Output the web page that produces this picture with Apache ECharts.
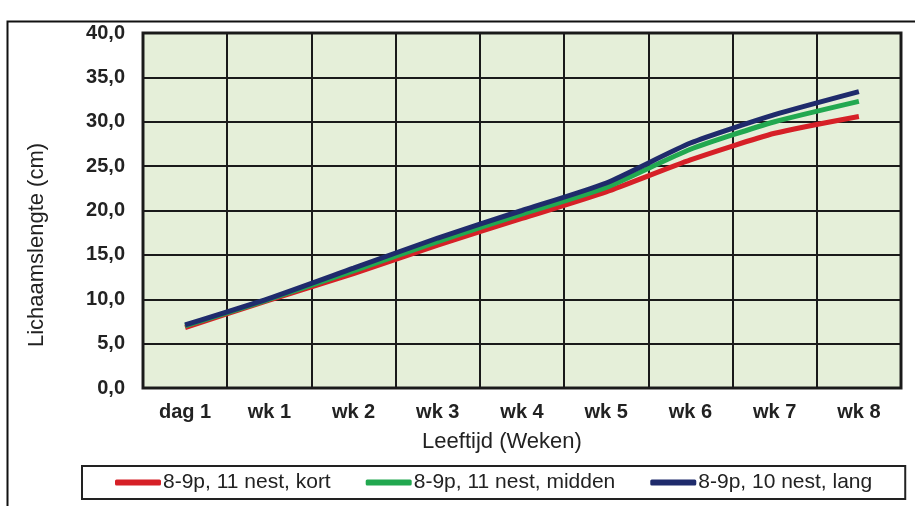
<!DOCTYPE html>
<html>
<head>
<meta charset="utf-8">
<script src="https://cdn.jsdelivr.net/npm/echarts@6/dist/echarts.min.js"></script>
<style>
html,body{margin:0;padding:0;background:#fff;}
#c{width:915px;height:506px;}
</style>
</head>
<body>
<div id="c"></div>
<script>
var categories = ['dag 1','wk 1','wk 2','wk 3','wk 4','wk 5','wk 6','wk 7','wk 8'];
var seriesNames = ['8-9p, 11 nest, kort','8-9p, 11 nest, midden','8-9p, 10 nest, lang'];
var kort   = [6.8, 9.9, 12.9, 16.1, 19.1, 22.1, 25.7, 28.7, 30.6];
var midden = [7.0, 10.0, 13.2, 16.5, 19.6, 22.6, 26.9, 30.0, 32.3];
var lang   = [7.1, 10.1, 13.5, 16.9, 20.0, 23.1, 27.6, 30.8, 33.4];
var yMin = 0, yMax = 40, yStep = 5;
var xTitle = 'Leeftijd (Weken)';
var yTitle = 'Lichaamslengte (cm)';

var colors = ['#d62027', '#22a850', '#1f2b6c'];
var font = 'Liberation Sans, Arial, sans-serif';

var chart = echarts.init(document.getElementById('c'), null, {renderer:'canvas'});
var dataSets = [kort, midden, lang];
var series = dataSets.map(function(d, i){
  return {
    name: seriesNames[i], type: 'line', data: d, smooth: 0.2,
    symbol: 'none', lineStyle: {width: 5, color: colors[i]}, itemStyle:{color: colors[i]}
  };
});

chart.setOption({
  animation: false,
  color: colors,
  grid: {left: 143, right: 14, top: 33, bottom: 118, show: true,
         backgroundColor: '#e5efd9', borderColor: '#222', borderWidth: 3},
  xAxis: {
    type: 'category', data: categories, boundaryGap: true,
    axisLine: {show: false}, axisTick: {show: false},
    axisLabel: {color: '#222', fontFamily: font, fontWeight: 'bold', fontSize: 20, margin: 14},
    splitLine: {show: true, lineStyle: {color: '#1a1a1a', width: 2}}
  },
  yAxis: {
    type: 'value', min: yMin, max: yMax, interval: yStep,
    axisLine: {show: false}, axisTick: {show: false},
    axisLabel: {color: '#222', fontFamily: font, fontWeight: 'bold', fontSize: 20, margin: 18,
      formatter: function(v){ return v.toFixed(1).replace('.', ','); }},
    splitLine: {show: true, lineStyle: {color: '#1a1a1a', width: 2}}
  },
  legend: {
    data: seriesNames, left: 82, top: 466,
    padding: [6, 33, 6, 33], itemGap: 35,
    itemWidth: 46, itemHeight: 6, icon: 'roundRect',
    borderColor: '#222', borderWidth: 2,
    textStyle: {color: '#222', fontFamily: font, fontSize: 21, padding: [0,0,0,-3]}
  },
  graphic: [
    {type: 'rect', left: 5, top: 19, shape: {width: 1000, height: 600},
     style: {fill: 'none', stroke: '#111', lineWidth: 2}, silent: true, z: -1},
    {type: 'text', x: 502, y: 442,
     style: {text: xTitle, fill: '#222', font: '22px ' + font, textAlign: 'center', textVerticalAlign: 'middle'}},
    {type: 'text', x: 37, y: 245, rotation: Math.PI/2,
     style: {text: yTitle, fill: '#222', font: '22px ' + font, textAlign: 'center', textVerticalAlign: 'middle'}}
  ],
  series: series
});
</script>
</body>
</html>
